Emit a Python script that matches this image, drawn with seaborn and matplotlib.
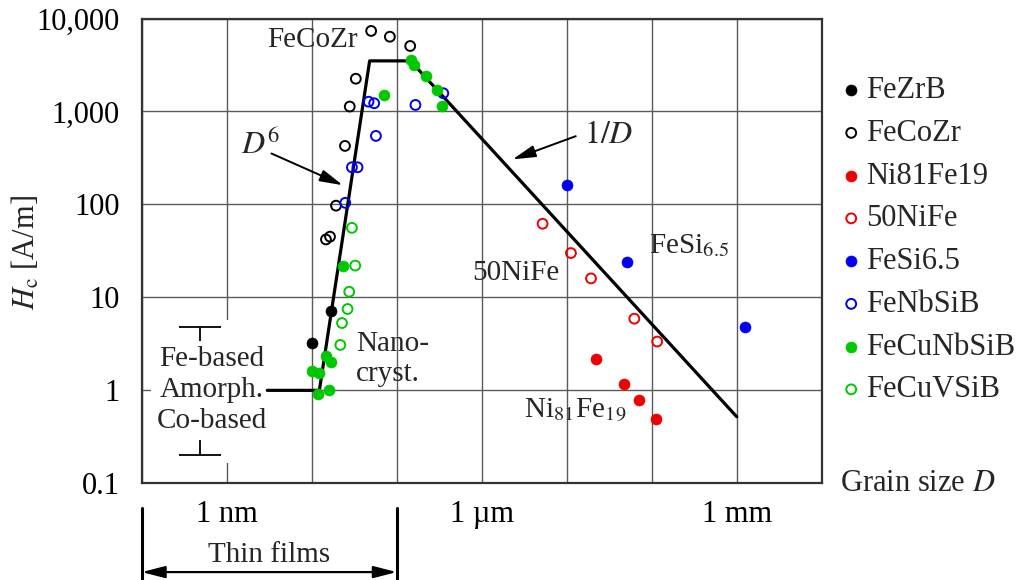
import numpy as np
import seaborn as sns
import matplotlib.pyplot as plt
from matplotlib.patches import Rectangle

# --- data: grain size D [nm], coercivity Hc [A/m] ---
FEZRB_D = [10, 17]
FEZRB_HC = [3.2, 7.2]

FECOZR_D = [50, 83, 144, 33, 28, 24.6, 19.3, 14.7, 16.4]
FECOZR_HC = [7350, 6370, 5060, 2250, 1130, 426, 97, 42, 45]

NI81FE19_D = [22000, 47000, 70000, 111000]
NI81FE19_HC = [2.2, 1.17, 0.78, 0.49]

NIFE50_D = [5200, 11200, 19300, 62400, 116000]
NIFE50_HC = [62, 30, 16, 5.9, 3.35]

FESI_D = [10200, 51000, 1.25e6]
FESI_HC = [162, 24, 4.85]

FENBSIB_D = [46.6, 54.3, 166, 353, 56.9, 29.7, 34.6, 24.8]
FENBSIB_HC = [1274, 1225, 1175, 1570, 546, 251, 251, 104]

FECUNBSIB_D = [149, 160, 220, 296, 344, 71, 23.5, 14.7, 16.8, 10.1, 12.3, 11.7, 15.8]
FECUNBSIB_HC = [3580, 3160, 2410, 1700, 1146, 1500, 22, 2.35, 2.04, 1.63, 1.53, 0.91, 1.0]

FECUVSIB_D = [29.7, 32.5, 27.6, 26.4, 22.7, 21.7]
FECUVSIB_HC = [56, 22, 11.5, 7.5, 5.3, 3.08]

# guide line: amorphous level -> D^6 -> maximum -> 1/D
FIT_D = [3, 12.3, 48, 145, 1e6]
FIT_HC = [1, 1, 3500, 3500, 0.52]

# range of amorphous alloys (Co-based ... Fe-based)
AMORPH_D = [0.49]
AMORPH_HC = [1.0]
AMORPH_ERR = [[0.8], [3.8]]

XTICKS = [0.1, 1, 10, 100, 1e3, 1e4, 1e5, 1e6, 1e7]
XTICKLABELS = ['', '1 nm', '', '', '1 µm', '', '', '1 mm', '']
YTICKS = [0.1, 1, 10, 100, 1000, 10000]
YTICKLABELS = ['0.1', '1', '10', '100', '1,000', '10,000']

RED = '#ee0000'
BLUE = '#0000ee'
GREEN = '#00c800'

SERIES = [
    ('FeZrB', FEZRB_D, FEZRB_HC, 'black', True),
    ('FeCoZr', FECOZR_D, FECOZR_HC, 'black', False),
    ('Ni81Fe19', NI81FE19_D, NI81FE19_HC, RED, True),
    ('50NiFe', NIFE50_D, NIFE50_HC, RED, False),
    ('FeSi6.5', FESI_D, FESI_HC, BLUE, True),
    ('FeNbSiB', FENBSIB_D, FENBSIB_HC, BLUE, False),
    ('FeCuNbSiB', FECUNBSIB_D, FECUNBSIB_HC, GREEN, True),
    ('FeCuVSiB', FECUVSIB_D, FECUVSIB_HC, GREEN, False),
]

sns.set_style('white')
plt.rcParams['font.family'] = ['Liberation Serif', 'DejaVu Sans']
plt.rcParams['mathtext.fontset'] = 'stix'
FS = 22     # axis / legend text
FS_IN = 21  # labels inside the plot

fig = plt.figure(figsize=(10.19, 5.8), dpi=100)
ax = fig.add_axes([0.1391, 0.1667, 0.6673, 0.8014])
ax.set_xscale('log')
ax.set_yscale('log')

sns.lineplot(x=FIT_D, y=FIT_HC, sort=False, estimator=None, color='black',
             lw=2.3, ax=ax, zorder=4)

for name, d, hc, color, filled in SERIES:
    if filled:
        sns.scatterplot(x=d, y=hc, ax=ax, s=62, marker='o', color=color,
                        edgecolor=color, linewidth=0.5, label=name, zorder=5)
    else:
        sns.scatterplot(x=d, y=hc, ax=ax, s=50, marker='o', color=color,
                        facecolor='none', edgecolor=color, linewidth=1.4,
                        label=name, zorder=5)

ax.set_xlim(0.1, 1e7)
ax.set_ylim(0.1, 1e4)
ax.set_xticks(XTICKS, XTICKLABELS)
ax.set_yticks(YTICKS, YTICKLABELS)
ax.minorticks_off()
ax.tick_params(axis='both', direction='out', width=1.5, color='#333333',
               labelsize=FS, labelcolor='black')
ax.tick_params(axis='x', length=8, pad=4)
ax.tick_params(axis='y', length=11, pad=5)
ax.grid(True, which='major', color='#5a5a5a', lw=1.0)
ax.set_axisbelow(True)
for s in ax.spines.values():
    s.set_color('#333333')
    s.set_linewidth(1.6)

ax.set_ylabel(r'$H_\mathrm{c}$ [A/m]', fontsize=FS)
ax.yaxis.set_label_coords(-0.147, 0.496)
ax.set_xlabel('')

# white patch behind the amorphous label
ax.add_patch(Rectangle((0.015, 0.0437), 0.169, 0.307, transform=ax.transAxes,
                       facecolor='white', edgecolor='none', zorder=1))
ax.errorbar(AMORPH_D, AMORPH_HC, yerr=AMORPH_ERR, fmt='none', ecolor='black',
            elinewidth=1.3, capsize=15, capthick=1.3, zorder=2)
ax.text(0.664, 2.99, 'Fe-based\nAmorph.\nCo-based', ha='center', va='top',
        fontsize=FS_IN, linespacing=1.25, zorder=3,
        bbox=dict(facecolor='white', edgecolor='none', pad=4))

# labels on the plot
ax.text(10.1, 4910, 'FeCoZr', ha='center', va='baseline', fontsize=FS_IN)
ax.text(33.4, 4.35, 'Nano-\ncryst.', ha='left', va='top', fontsize=FS_IN,
        linespacing=1.2)
ax.text(775, 15.3, '50NiFe', ha='left', va='baseline', fontsize=FS_IN)
ax.text(92500, 29.9, r'FeSi$_{6.5}$', ha='left', va='baseline', fontsize=FS_IN)
ax.text(3150, 0.50, r'Ni$_{81}$Fe$_{19}$', ha='left', va='baseline',
        fontsize=FS_IN)

arrow = dict(arrowstyle='-|>,head_length=0.7,head_width=0.18', color='black',
             lw=1.4, shrinkA=0, shrinkB=0, mutation_scale=20)
ax.text(2.51, 434, r'$D^6$', ha='center', va='center', fontsize=FS + 1)
ax.annotate('', xy=(23.2, 161), xytext=(3.36, 353), arrowprops=arrow)
ax.text(16000, 556, r'$1/D$', ha='left', va='center', fontsize=FS + 1)
ax.annotate('', xy=(2300, 305), xytext=(12760, 542), arrowprops=arrow)

ax.text(1.027, -0.0166, 'Grain size $D$', transform=ax.transAxes,
        ha='left', va='baseline', fontsize=FS)

# thin films bracket below the axis
trans = ax.get_xaxis_transform()
for xv in [0.1, 100]:
    ax.plot([xv, xv], [-0.053, -0.215], transform=trans, color='black',
            lw=2.2, clip_on=False)
ax.annotate('', xy=(0.1, -0.191), xytext=(100, -0.191), xycoords=trans,
            textcoords=trans,
            arrowprops=dict(arrowstyle='<|-|>,head_length=0.7,head_width=0.18',
                            color='black', lw=1.6, shrinkA=0, shrinkB=0,
                            mutation_scale=20))
ax.text(3.16, -0.155, 'Thin films', transform=trans, ha='center', va='center',
        fontsize=FS_IN)

ax.legend(loc='upper left', bbox_to_anchor=(1.0254, 0.876), frameon=False,
          fontsize=FS, handlelength=0.8, handletextpad=0.1, labelspacing=0.45,
          borderaxespad=0, borderpad=0, scatterpoints=1)

fig.savefig('out.png', dpi=100)
